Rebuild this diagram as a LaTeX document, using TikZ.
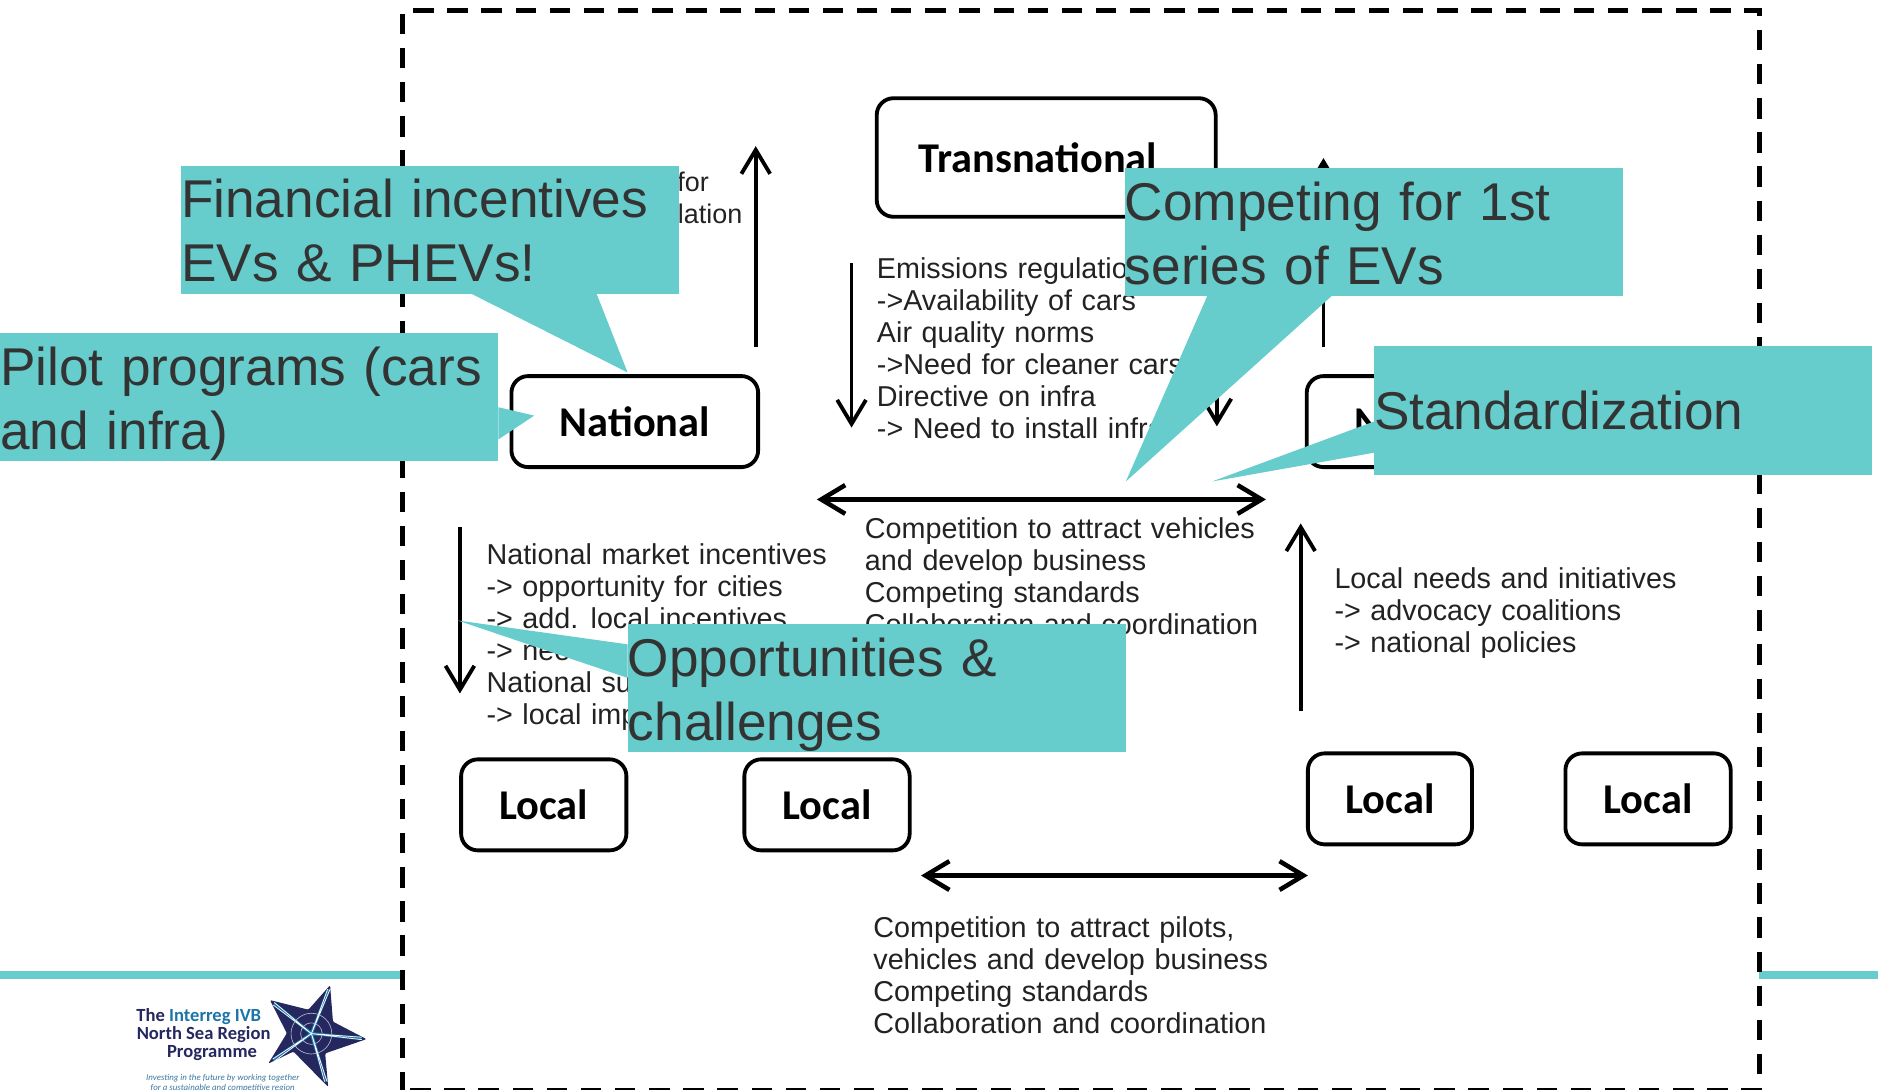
\documentclass[tikz,border=0pt]{standalone}
\usepackage{fontspec}
\setmainfont{Liberation Sans}
\newfontfamily\boxfont{Carlito}
\newfontfamily\bodyfont[WordSpace=1.2]{Liberation Sans}
\usetikzlibrary{arrows.meta}
\definecolor{calloutfill}{HTML}{66CCCC}
\definecolor{calltext}{HTML}{333333}
\definecolor{bodytext}{HTML}{222222}
\definecolor{navy}{HTML}{25285F}
\definecolor{seablue}{HTML}{1C74A8}
\newcommand{\sizeCall}{\fontsize{44.4}{53.5}\selectfont}
\newcommand{\sizeBody}{\bodyfont\fontsize{24}{26.7}\selectfont}
\newcommand{\sizeBox}{\boxfont\bfseries\fontsize{35.4}{38}\selectfont}
\tikzset{
  x=1pt,y=-1pt,
  frame/.style={line width=4pt,dash pattern=on 17pt off 11.5pt},
  levelbox/.style={draw,line width=3.2pt,rounded corners=14pt,fill=white,inner sep=0pt,font=\sizeBox},
  flow/.style={line width=3.2pt,-{Straight Barb[length=20pt,width=24pt,line width=3.2pt]}},
  twoway/.style={line width=3.8pt,{Straight Barb[length=20pt,width=24pt,line width=3.8pt]}-{Straight Barb[length=20pt,width=24pt,line width=3.8pt]}},
  bodyblock/.style={anchor=north west,inner sep=0pt,align=left,text=bodytext,font=\sizeBody},
  callout/.style={fill=calloutfill,anchor=north west,inner sep=0pt,minimum width=416pt,minimum height=107pt,text width=416pt,align=left,text=calltext,font=\sizeCall},
  tail/.style={fill=calloutfill},
  logotxt/.style={inner sep=0pt,font=\boxfont\bfseries\fontsize{15.5}{17}\selectfont,text=navy},
  logosub/.style={inner sep=0pt,font=\boxfont\itshape\fontsize{7.4}{9}\selectfont,text=seablue!70!gray}
}
\begin{document}
\begin{tikzpicture}
\useasboundingbox (0,0) rectangle (1568,910);
% strip
\fill[calloutfill] (0,811) rectangle (336,817);
\fill[calloutfill] (1469,811) rectangle (1568,817);
% frame
\draw[frame] (336,912) -- (336,9) -- (1469,9) -- (1469,910.5) -- (336,910.5);
% logo
\node[logotxt] (l1) at (166,849) {The \textcolor{seablue}{Interreg IVB}};
\node[logotxt] (l2) at (170,864) {North Sea Region};
\node[logotxt] (l3) at (177,879) {Programme};
\node[logosub] (l4) at (186,900.5) {Investing in the future by working together};
\node[logosub] (l5) at (186,908.5) {for a sustainable and competitive region};
\fill[navy,rounded corners=1pt] (275.6,822.6) -- (278,853) -- (306,867.6) -- (271.5,879.5) -- (274,907.5) -- (245,878) -- (224,888) -- (239.5,862.7) -- (225.4,835) -- (257.5,843) -- cycle;
\draw[seablue,line width=2.6pt] (260,863) -- (274.5,826) (260,863) -- (302,867) (260,863) -- (272,903) (260,863) -- (228,885) (260,863) -- (229,838);
\draw[white,line width=.6pt] (260,863) -- (275.5,826) (260,863) -- (273.5,826) (260,863) -- (302,866) (260,863) -- (302,868) (260,863) -- (271,903) (260,863) -- (273,903) (260,863) -- (228,884) (260,863) -- (229,886) (260,863) -- (229,837) (260,863) -- (228,839);
\draw[white!70!navy,line width=.5pt] (260,863) circle (9) (260,863) circle (17);
% boxes
\node[levelbox,minimum width=283pt,minimum height=99pt] (trans) at (873.5,131.5) {};
\node[font=\sizeBox,inner sep=0pt] (translabel) at (866.5,132) {Transnational};
\node[levelbox,minimum width=206pt,minimum height=76pt] (natl) at (530,352) {National};
\node[levelbox,minimum width=206pt,minimum height=76pt] (natr) at (1194,352) {National};
\node[levelbox,minimum width=138pt,minimum height=76pt] (loca) at (454,672) {Local};
\node[levelbox,minimum width=138pt,minimum height=76pt] (locb) at (690.5,672) {Local};
\node[levelbox,minimum width=137pt,minimum height=76pt] (locc) at (1160.5,667) {Local};
\node[levelbox,minimum width=138pt,minimum height=76pt] (locd) at (1376,667) {Local};
% connectors
\coordinate (a1s) at (631,290); \coordinate (a1e) at (631,122);
\coordinate (a2s) at (711,220); \coordinate (a2e) at (711,357);
\coordinate (a3s) at (1016,220); \coordinate (a3e) at (1016,356);
\coordinate (a4s) at (1105,290); \coordinate (a4e) at (1105,132);
\coordinate (a5s) at (682,417); \coordinate (a5e) at (1057,417);
\coordinate (a6s) at (384,440); \coordinate (a6e) at (384,579);
\coordinate (a7s) at (1086,594); \coordinate (a7e) at (1086,437);
\coordinate (a8s) at (769,731); \coordinate (a8e) at (1092,731);
\draw[flow] (a1s) -- (a1e);
\draw[flow] (a2s) -- (a2e);
\draw[flow] (a3s) -- (a3e);
\draw[flow] (a4s) -- (a4e);
\draw[twoway] (a5s) -- (a5e);
\draw[flow] (a6s) -- (a6e);
\draw[flow] (a7s) -- (a7e);
\draw[twoway] (a8s) -- (a8e);
% texts
\node[bodyblock,anchor=north east,font=\bodyfont\fontsize{22.5}{26.7}\selectfont] (tfor) at (592,143) {for};
\node[bodyblock,anchor=north east,font=\bodyfont\fontsize{22.5}{26.7}\selectfont] (tlat) at (620,170) {lation};
\node[bodyblock] (temis) at (732,215) {Emissions regulations\\->Availability of cars\\Air quality norms\\->Need for cleaner cars\\Directive on infra\\-> Need to install infra};
\node[bodyblock] (tnat) at (406,454) {National market incentives\\-> opportunity for cities\\-> add. local incentives\\-> need\\National su\\-> local imp};
\node[bodyblock] (tcomp) at (722,432) {Competition to attract vehicles\\and develop business\\Competing standards\\Collaboration and coordination};
\node[bodyblock] (tlocal) at (1114,474) {Local needs and initiatives\\-> advocacy coalitions\\-> national policies};
\node[bodyblock] (tpil) at (729,765) {Competition to attract pilots,\\vehicles and develop business\\Competing standards\\Collaboration and coordination};
% callouts
\fill[tail] (393,245) -- (524,311) -- (498,245) -- cycle;
\fill[tail] (416,340) -- (446,347) -- (416,367) -- cycle;
\fill[tail] (1008,247) -- (940,402) -- (1112,247) -- cycle;
\fill[tail] (1147,352) -- (1012,402) -- (1147,378) -- cycle;
\fill[tail] (524,538) -- (382,518) -- (524,566) -- cycle;
\node[callout] (cfin) at (151,138) {\rule{0pt}{34pt}Financial incentives\\EVs \& PHEVs!};
\node[callout] (cpil) at (0,278) {\rule{0pt}{43pt}Pilot programs (cars\\and infra)};
\node[callout] (ccmp) at (939,140) {\rule{0pt}{34pt}Competing for 1st\\series of EVs};
\node[callout] (cstd) at (1147,289) {Standardization};
\node[callout] (copp) at (524,521) {\rule{0pt}{43pt}Opportunities \&\\challenges};
\end{tikzpicture}
\end{document}
